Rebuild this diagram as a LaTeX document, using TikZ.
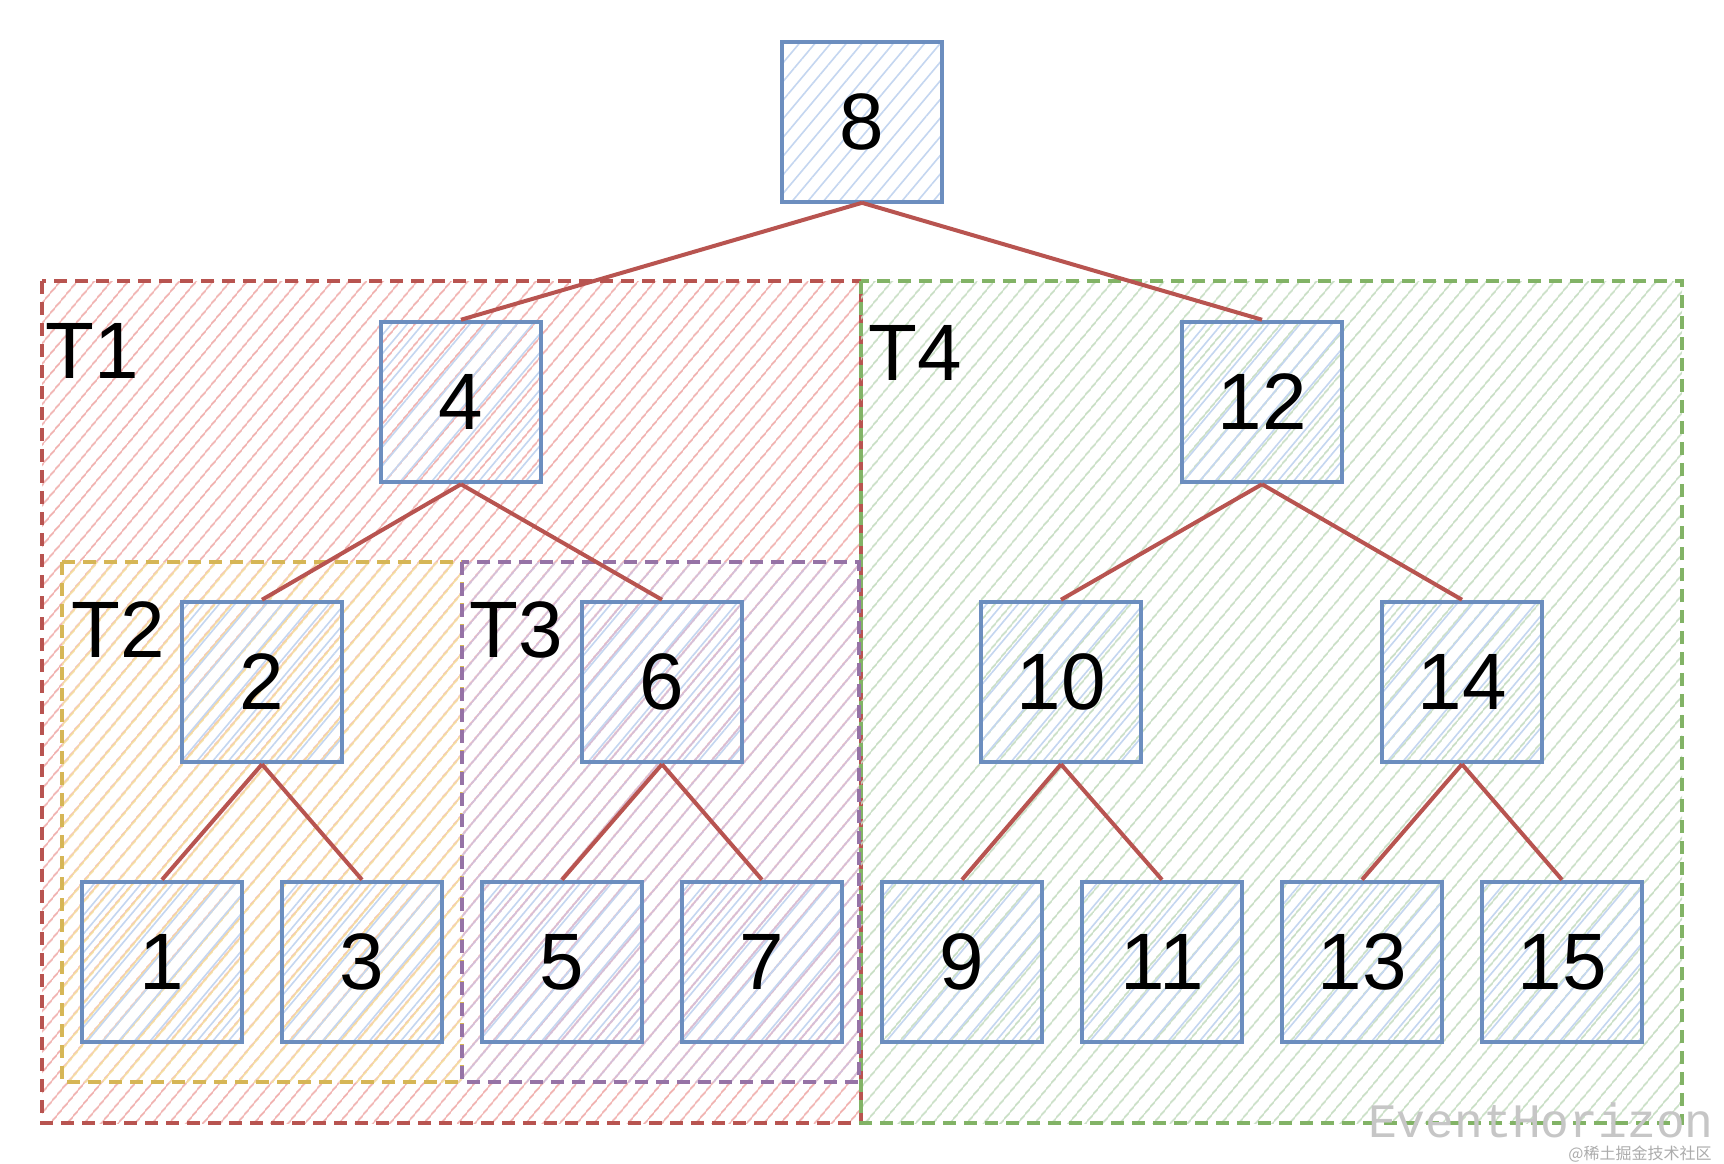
\documentclass[tikz,border=0pt]{standalone}
\usepackage{fontspec}
\setmainfont{Liberation Sans}
\newfontfamily\cjkfont{Noto Sans CJK SC}
\newfontfamily\wmfont{Liberation Mono}
\usetikzlibrary{patterns.meta}
\definecolor{nodeblue}{HTML}{6C8EBF}
\definecolor{edgered}{HTML}{B85450}
\definecolor{boxgreen}{HTML}{82B366}
\definecolor{boxyellow}{HTML}{D6B656}
\definecolor{boxpurple}{HTML}{9673A6}
\definecolor{hatchblue}{HTML}{C4D6F0}
\definecolor{hatchred}{HTML}{F0ADAB}
\definecolor{hatchgreen}{HTML}{C6DDC2}
\definecolor{hatchyellow}{HTML}{F6E0A0}
\definecolor{hatchpurple}{HTML}{D3C0DC}
\begin{document}
\begin{tikzpicture}[x=1pt,y=-1pt,
  treenode/.style={draw=nodeblue, line width=4.5pt, minimum width=160pt, minimum height=160pt,
    inner sep=0pt, pattern={Lines[angle=50,distance=12pt,line width=1.6pt]}, pattern color=hatchblue,
    font=\fontsize{80}{80}\selectfont},
  edge/.style={draw=edgered, line width=4pt},
  regionbox/.style={line width=4pt, dash pattern=on 13pt off 8pt},
  t1box/.style={regionbox, draw=edgered, pattern={Lines[angle=50,distance=13pt,line width=1.8pt]}, pattern color=hatchred},
  t4box/.style={regionbox, draw=boxgreen, pattern={Lines[angle=50,distance=13pt,line width=1.8pt]}, pattern color=hatchgreen},
  t2box/.style={regionbox, draw=boxyellow, pattern={Lines[angle=50,distance=13pt,line width=1.8pt]}, pattern color=hatchyellow},
  t3box/.style={regionbox, draw=boxpurple, line width=3.5pt, pattern={Lines[angle=50,distance=13pt,line width=1.8pt]}, pattern color=hatchpurple},
  regionlabel/.style={inner sep=0pt, font=\fontsize{80}{80}\selectfont}
]
\useasboundingbox[fill=white] (0,0) rectangle (1724,1164);

% regions
\draw[t1box] (42,281) rectangle (861,1123);
\draw[t4box] (861,281) rectangle (1682,1123);
\draw[t2box] (62,562) rectangle (462,1082);
\draw[t3box] (462,562) rectangle (859,1082);

\node[regionlabel] (lt1) at (92,351) {T1};
\node[regionlabel] (lt4) at (915,353) {T4};
\node[regionlabel] (lt2) at (118,630) {T2};
\node[regionlabel] (lt3) at (516,630) {T3};

% nodes
\node[treenode] (n8) at (862,122) {8};
\node[treenode] (n4) at (461,402) {4};
\node[treenode] (n12) at (1262,402) {12};
\node[treenode] (n2) at (262,682) {2};
\node[treenode] (n6) at (662,682) {6};
\node[treenode] (n10) at (1061,682) {10};
\node[treenode] (n14) at (1462,682) {14};
\node[treenode] (n1) at (162,962) {1};
\node[treenode] (n3) at (362,962) {3};
\node[treenode] (n5) at (562,962) {5};
\node[treenode] (n7) at (762,962) {7};
\node[treenode] (n9) at (962,962) {9};
\node[treenode] (n11) at (1162,962) {11};
\node[treenode] (n13) at (1362,962) {13};
\node[treenode] (n15) at (1562,962) {15};

% edges
\draw[edge] (n8.south) -- (n4.north);
\draw[edge] (n8.south) -- (n12.north);
\draw[edge] (n4.south) -- (n2.north);
\draw[edge] (n4.south) -- (n6.north);
\draw[edge] (n12.south) -- (n10.north);
\draw[edge] (n12.south) -- (n14.north);
\draw[edge] (n2.south) -- (n1.north);
\draw[edge] (n2.south) -- (n3.north);
\draw[edge] (n6.south) -- (n5.north);
\draw[edge] (n6.south) -- (n7.north);
\draw[edge] (n10.south) -- (n9.north);
\draw[edge] (n10.south) -- (n11.north);
\draw[edge] (n14.south) -- (n13.north);
\draw[edge] (n14.south) -- (n15.north);

% watermark
\node[inner sep=0pt, text=gray!45, font=\wmfont\fontsize{48}{48}\selectfont] (wm) at (1541,1120) {EventHorizon};
\node[inner sep=0pt, text=gray!65, font=\cjkfont\fontsize{16}{16}\selectfont] (wm2) at (1640,1154) {@稀土掘金技术社区};
\end{tikzpicture}
\end{document}
